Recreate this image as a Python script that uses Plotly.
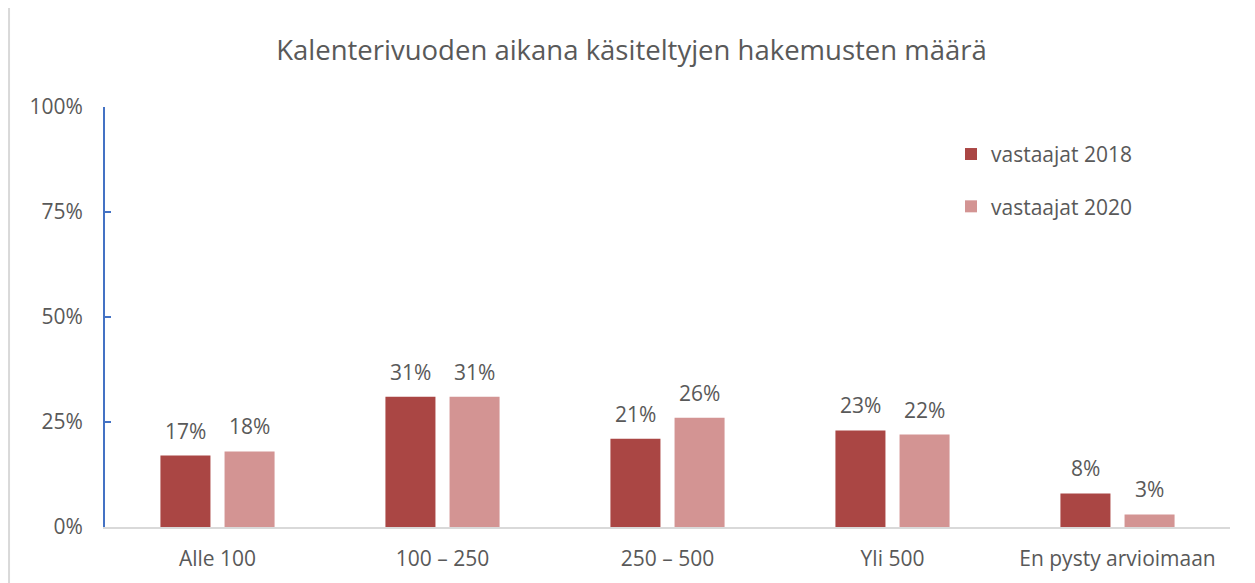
import plotly.graph_objects as go

categories = ["Alle 100", "100 – 250", "250 – 500", "Yli 500", "En pysty arvioimaan"]
vals_2018 = [17, 31, 21, 23, 8]
vals_2020 = [18, 31, 26, 22, 3]
series_names = ["vastaajat 2018", "vastaajat 2020"]
colors = ["#AA4644", "#D39493"]
tick_vals = [0, 25, 50, 75, 100]
tick_text = ["0%", "25%", "50%", "75%", "100%"]

FONT = "Open Sans"
GREY = "#595959"
FS = 21

fig = go.Figure()
for name, vals, col, grp, shift in zip(series_names, [vals_2018, vals_2020], colors, ["a", "b"], [-32, 32]):
    fig.add_trace(go.Bar(
        x=categories, y=vals, name=name, marker=dict(color=col, line=dict(width=0)),
        legendgroup=grp, hoverinfo="x+y",
    ))
    for c, v in zip(categories, vals):
        fig.add_annotation(x=c, y=v, xref="x", yref="y", text=f"{v}%", showarrow=False,
                           xshift=shift, yshift=9, yanchor="bottom", xanchor="center",
                           font=dict(family=FONT, size=FS, color=GREY))

fig.update_layout(
    width=1247, height=575,
    margin=dict(l=97, r=25, t=99, b=56, autoexpand=False),
    paper_bgcolor="white", plot_bgcolor="white",
    barmode="group", bargap=0.43, bargroupgap=0.22,
    title=dict(text="Kalenterivuoden aikana käsiteltyjen hakemusten määrä",
               x=0.5, xref="container", y=0.927, yref="container", xanchor="center", yanchor="middle",
               font=dict(family=FONT, size=27.5, color=GREY)),
    font=dict(family=FONT, size=FS, color=GREY),
    legend=dict(x=0.752, y=0.936, xanchor="left", yanchor="top", tracegroupgap=22,
                font=dict(family=FONT, size=FS, color=GREY),
                bgcolor="rgba(0,0,0,0)"),
    showlegend=True,
)
fig.update_xaxes(showline=True, linecolor="#D9D9D9", linewidth=2, ticks="", automargin=False,
                 tickfont=dict(family=FONT, size=FS, color=GREY), showgrid=False,
                 ticklabelstandoff=12)
fig.update_yaxes(range=[0, 100], tickvals=tick_vals, ticktext=tick_text, automargin=False,
                 showline=True, linecolor="#4472C4", linewidth=2, ticks="inside",
                 tickcolor="#4472C4", ticklen=6, tickwidth=2, showgrid=False, zeroline=False,
                 tickfont=dict(family=FONT, size=FS, color=GREY), ticklabelstandoff=16)
fig.add_shape(type="line", xref="paper", yref="paper", x0=-0.0853, x1=-0.0853, y0=-0.2, y1=1.3,
              line=dict(color="#D9D9D9", width=2))
fig.write_html("out.html")
